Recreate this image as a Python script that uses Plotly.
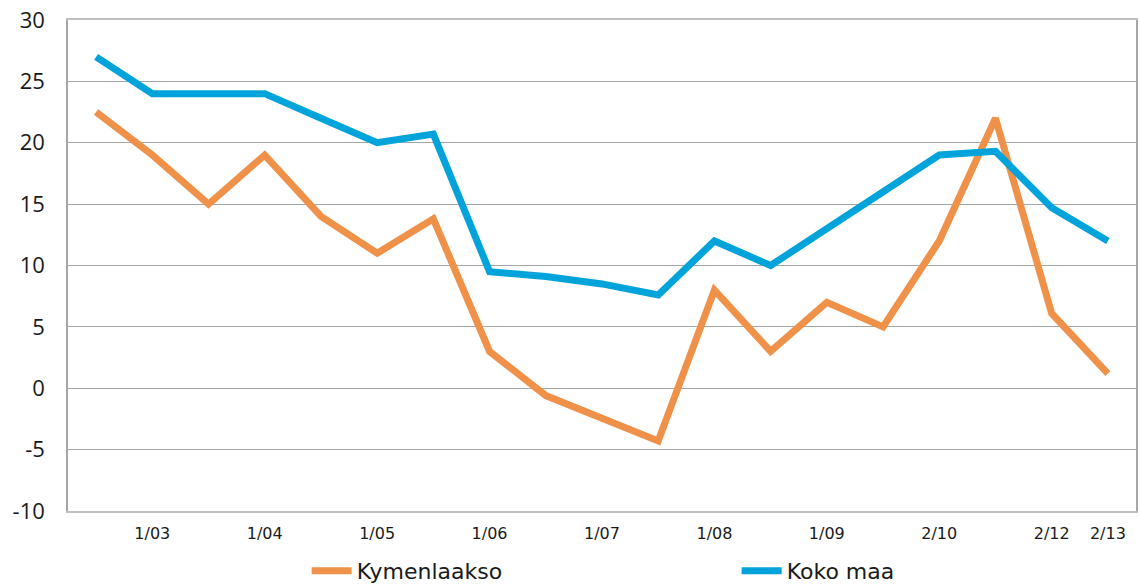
import plotly.graph_objects as go

periods = ["", "1/03", "", "1/04", "", "1/05", "", "1/06", "", "1/07", "",
           "1/08", "", "1/09", "", "2/10", "", "2/12", "2/13"]
kymenlaakso = [22.5, 19.0, 15.0, 19.0, 14.0, 11.0, 13.8, 3.0, -0.6, -2.4, -4.3,
               8.0, 3.0, 7.0, 5.0, 12.0, 22.0, 6.1, 1.2]
koko_maa = [27.0, 24.0, 24.0, 24.0, 22.0, 20.0, 20.7, 9.5, 9.1, 8.5, 7.6,
            12.0, 10.0, 13.0, 16.0, 19.0, 19.3, 14.7, 12.0]
y_ticks = [-10, -5, 0, 5, 10, 15, 20, 25, 30]
y_ticktext = ["-10", "-5", "0", "5", "10", "15", "20", "25", "30"]

x = list(range(len(periods)))
tickvals = [i for i, p in enumerate(periods) if p]
ticktext = [p for p in periods if p]

fig = go.Figure()
fig.add_trace(go.Scatter(x=x, y=kymenlaakso, name="Kymenlaakso", mode="lines",
                         line=dict(color="#F0914A", width=7)))
fig.add_trace(go.Scatter(x=x, y=koko_maa, name="Koko maa", mode="lines",
                         line=dict(color="#00A4DA", width=7)))

fig.update_layout(
    width=1140, height=586,
    margin=dict(l=68, r=4, t=20, b=75),
    paper_bgcolor="white", plot_bgcolor="white",
    font=dict(family="DejaVu Sans", color="#1a1a1a"),
    showlegend=True,
    legend=dict(orientation="h", xref="container", yref="container",
                x=0.269, y=0.0256, xanchor="left", yanchor="middle",
                entrywidth=375, entrywidthmode="pixels",
                font=dict(size=22, family="DejaVu Sans", color="#1a1a1a"),
                itemwidth=40, tracegroupgap=0),
)
fig.update_xaxes(range=[-0.5, len(periods) - 0.5], tickvals=tickvals, ticktext=ticktext,
                 showgrid=False, showline=True, linecolor="#BFBFBF", linewidth=1.5,
                 mirror=True, ticks="", ticklabelstandoff=7, automargin=False,
                 tickfont=dict(size=16, family="DejaVu Sans", color="#1a1a1a"), zeroline=False)
fig.update_yaxes(range=[-10, 30], tickvals=y_ticks, ticktext=y_ticktext,
                 showgrid=True, gridcolor="#A6A6A6",
                 gridwidth=1, showline=True, linecolor="#A6A6A6", linewidth=1.5,
                 mirror=True, ticks="", ticklabelstandoff=17, zeroline=False, automargin=False,
                 tickfont=dict(size=22, family="Open Sans", color="#1a1a1a"))

fig.write_html("out.html", config={"displayModeBar": False},
               post_script="document.body.style.margin='0';document.body.style.overflow='hidden';")
